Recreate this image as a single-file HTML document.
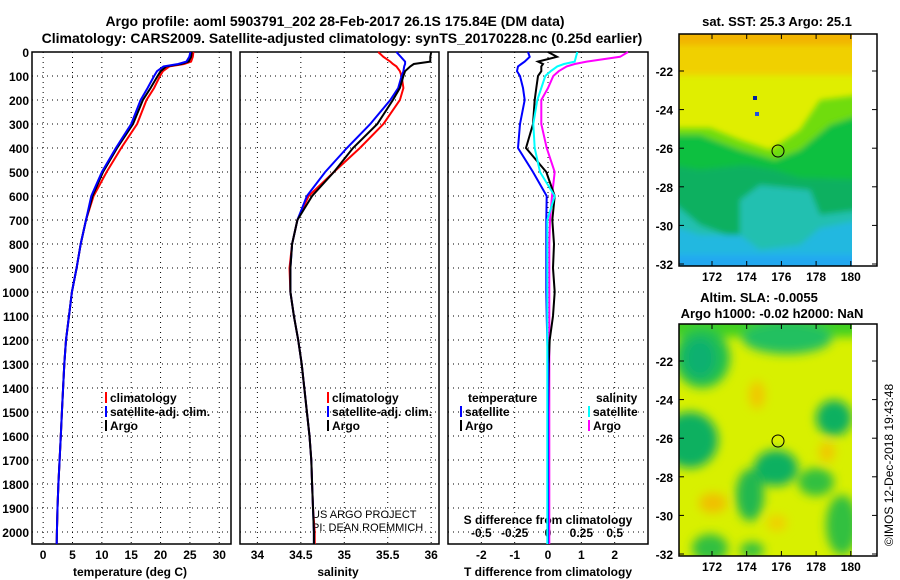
<!DOCTYPE html>
<html><head><meta charset="utf-8"><style>
body{margin:0;background:#fff;}
svg{display:block;font-family:"Liberation Sans",sans-serif;font-weight:bold;}
</style></head><body>
<svg id="c" width="900" height="580" viewBox="0 0 900 580">
<defs>
<filter id="bl" x="-20%" y="-20%" width="140%" height="140%"><feGaussianBlur stdDeviation="5"/></filter>
<filter id="bl2" x="-20%" y="-20%" width="140%" height="140%"><feGaussianBlur stdDeviation="3"/></filter>
<clipPath id="cm1"><rect x="679" y="34" width="173" height="232"/></clipPath>
<clipPath id="cm2"><rect x="679" y="324" width="173" height="232"/></clipPath>
</defs>
<text x="335" y="26" text-anchor="middle" font-size="14">Argo profile: aoml 5903791_202 28-Feb-2017 26.1S 175.84E (DM data)</text>
<text x="342" y="43" text-anchor="middle" font-size="14">Climatology: CARS2009. Satellite-adjusted climatology: synTS_20170228.nc (0.25d earlier)</text>

<g id="maps">
<text x="777" y="26" text-anchor="middle" font-size="13">sat. SST: 25.3 Argo: 25.1</text>
<rect x="679" y="34" width="198" height="232" fill="#fff"/>
<g clip-path="url(#cm1)">
 <rect x="679" y="34" width="173" height="232" fill="#e0ee00"/>
 <g filter="url(#bl2)">
 <rect x="670" y="25" width="190" height="30" fill="#f2b400"/>
 <rect x="670" y="45" width="190" height="30" fill="#f0d000"/>
 <polygon points="860,95 820,100 800,130 770,150 740,140 710,128 670,128 670,280 860,280" fill="#70dc10"/>
 <polygon points="860,115 830,125 800,150 775,160 740,150 700,135 670,135 670,280 860,280" fill="#10c040"/>
 <polygon points="860,180 800,178 775,170 745,165 700,170 670,165 670,280 860,280" fill="#10b060"/>
 <polygon points="860,210 820,215 810,190 760,185 740,200 740,240 700,225 670,200 670,280 860,280" fill="#20c0b0"/>
 <polygon points="860,220 820,228 800,245 760,250 740,235 700,235 670,225 670,280 860,280" fill="#20b8e0"/>
 <rect x="670" y="255" width="190" height="20" fill="#20a8f0"/>
 </g>
 <rect x="753" y="96" width="4" height="4" fill="#0020a0"/><rect x="755" y="112" width="4" height="4" fill="#2050e0"/>
</g>
<text x="759" y="302" text-anchor="middle" font-size="13">Altim. SLA: -0.0055</text>
<text x="772" y="318" text-anchor="middle" font-size="13">Argo h1000: -0.02 h2000: NaN</text>
<rect x="679" y="324" width="198" height="232" fill="#fff"/>
<g clip-path="url(#cm2)">
 <rect x="679" y="324" width="173" height="232" fill="#d8f000"/>
 <g filter="url(#bl)">
 <rect x="670" y="315" width="190" height="22" fill="#40d020"/>
 <ellipse cx="787" cy="338" rx="45" ry="16" fill="#20c060"/>
 <ellipse cx="702" cy="358" rx="28" ry="30" fill="#20c050"/>
 <ellipse cx="700" cy="358" rx="16" ry="20" fill="#10b070"/>
 <ellipse cx="690" cy="440" rx="28" ry="28" fill="#10b060"/>
 <ellipse cx="834" cy="418" rx="18" ry="18" fill="#10b060"/>
 <ellipse cx="776" cy="468" rx="22" ry="18" fill="#10b060"/>
 <ellipse cx="750" cy="495" rx="14" ry="26" fill="#20b850"/>
 <ellipse cx="816" cy="482" rx="18" ry="14" fill="#30c040"/>
 <ellipse cx="710" cy="548" rx="18" ry="14" fill="#30c040"/>
 <ellipse cx="752" cy="550" rx="12" ry="8" fill="#30c040"/>
 <ellipse cx="842" cy="525" rx="16" ry="30" fill="#30c040"/>
 <ellipse cx="713" cy="503" rx="14" ry="10" fill="#f0c000"/>
 <ellipse cx="757" cy="395" rx="8" ry="14" fill="#f0c800"/>
 <ellipse cx="827" cy="452" rx="8" ry="10" fill="#f0c800"/>
 <ellipse cx="777" cy="523" rx="10" ry="8" fill="#f0d000"/>
 </g>
</g>
<circle cx="778" cy="151" r="6" fill="none" stroke="#000"/>
<circle cx="778" cy="441" r="6" fill="none" stroke="#000"/>
<rect x="679" y="34" width="198" height="232" fill="none" stroke="#000" stroke-width="1.5"/>
<rect x="679" y="324" width="198" height="232" fill="none" stroke="#000" stroke-width="1.5"/>
<text x="-465" y="893" transform="rotate(-90)" text-anchor="middle" font-size="12" font-weight="normal">©IMOS 12-Dec-2018 19:43:48</text>
</g>

<g id="panels"></g>
</svg>
<script>
// ---- data ----
const depths = [0,20,40,50,60,80,100,150,200,300,400,500,600,700,800,900,1000,1100,1200,1300,1400,1500,1600,1700,1800,1900,2000,2050];
const tempArgo = [25.3,25.2,24.8,23.5,21.0,20.0,19.5,18.3,17.0,15.3,12.6,10.2,8.4,7.3,6.4,5.7,4.9,4.4,3.9,3.6,3.4,3.2,3.0,2.8,2.6,2.45,2.35,2.3];
const tempClim = [25.6,25.5,25.2,24.0,21.5,20.4,19.9,18.9,17.6,16.0,13.3,10.8,8.6,7.3,6.4,5.7,4.9,4.4,3.9,3.6,3.4,3.2,3.0,2.8,2.6,2.45,2.35,2.3];
const tempSat = [25.1,24.9,24.4,23.0,20.5,19.4,18.9,17.8,16.6,15.0,12.4,10.0,8.2,7.3,6.4,5.7,4.9,4.4,3.9,3.6,3.4,3.2,3.0,2.8,2.6,2.45,2.35,2.3];
const salArgo = [36.0,35.99,35.99,35.8,35.76,35.7,35.68,35.64,35.56,35.38,35.1,34.88,34.63,34.46,34.4,34.38,34.38,34.42,34.47,34.51,34.54,34.57,34.6,34.62,34.63,34.64,34.65,34.65];
const salClim = [35.39,35.45,35.53,35.56,35.6,35.64,35.66,35.68,35.64,35.45,35.18,34.88,34.59,34.46,34.4,34.37,34.38,34.42,34.47,34.51,34.54,34.57,34.6,34.62,34.63,34.64,34.66,34.66];
const salSat = [35.6,35.65,35.7,35.7,35.69,35.68,35.66,35.62,35.53,35.3,35.03,34.78,34.57,34.46,34.4,34.38,34.38,34.42,34.47,34.51,34.54,34.57,34.6,34.62,34.63,34.64,34.65,34.65];
const dTempSat = [-0.6,-0.55,-0.7,-0.8,-0.9,-0.93,-0.84,-0.75,-0.7,-0.84,-0.9,-0.45,-0.04,-0.05,-0.05,-0.05,-0.05,-0.04,-0.02,0,0,0,0,0,0,0,0,0];
const dTempArgo = [0,0.27,-0.3,-0.15,-0.2,-0.2,-0.3,-0.35,-0.4,-0.45,-0.66,-0.05,0.2,0.13,0.18,0.15,0.2,0.15,0.05,0.02,0.01,0,0,0,0,0,0,0];
const dSalSat = [0.22,0.21,0.2,0.12,0.07,0.02,-0.02,-0.05,-0.08,-0.11,-0.1,-0.06,0.05,-0.005,-0.005,-0.005,-0.005,-0.005,-0.005,-0.005,-0.005,-0.005,-0.005,-0.005,-0.005,-0.005,-0.005,-0.005];
const dSalArgo = [0.6,0.54,0.29,0.2,0.14,0.08,0.04,0,-0.05,-0.05,-0.01,0.05,0.03,0.015,0.01,0.01,0.01,0.01,0.01,0.01,0.01,0.01,0.01,0.01,0.01,0.01,0.01,0.01];
const depthTicks = [0,100,200,300,400,500,600,700,800,900,1000,1100,1200,1300,1400,1500,1600,1700,1800,1900,2000];
const tempTicks = [0,5,10,15,20,25,30];
const salTicks = [34,34.5,35,35.5,36];
const salTickLabels = ["34","34.5","35","35.5","36"];
const dTTicks = [-2,-1,0,1,2];
const dSTicks = [-0.5,-0.25,0,0.25,0.5];
const dSTickLabels = ["-0.5","-0.25","0","0.25","0.5"];
const mapLatTicks = [-22,-24,-26,-28,-30,-32];
const mapLonTicks = [172,174,176,178,180];

const NS='http://www.w3.org/2000/svg';
const G=document.getElementById('panels');
function mk(tag,attrs,parent){const e=document.createElementNS(NS,tag);for(const k in attrs)e.setAttribute(k,attrs[k]);(parent||G).appendChild(e);return e;}
const TOP=52,BOT=544;
const yD=d=>TOP+(BOT-TOP)*d/2050;
const panels=[
 {x0:32,x1:231,v0:-1.9,v1:32,name:'temperature'},
 {x0:240,x1:439,v0:33.8,v1:36.09,name:'salinity'},
 {x0:448,x1:648,v0:-3,v1:3,name:'difference'}];
panels.forEach(p=>{p.sx=v=>p.x0+(v-p.v0)/(p.v1-p.v0)*(p.x1-p.x0);});
const sxS=v=>panels[2].sx(v*4);

function grid(p,xt,sx){
  depthTicks.forEach(d=>{const l=mk('line',{x1:p.x0,x2:p.x1,y1:yD(d),y2:yD(d),stroke:'#000','stroke-dasharray':'1,4'});
    
    });
  xt.forEach(v=>{const l=mk('line',{x1:sx(v),x2:sx(v),y1:TOP,y2:BOT,stroke:'#000','stroke-dasharray':'1,4'});
    
    });
  const r=mk('rect',{x:p.x0,y:TOP,width:p.x1-p.x0,height:BOT-TOP,fill:'none',stroke:'#000','stroke-width':1.5});
  
  
}
grid(panels[0],tempTicks,panels[0].sx);
grid(panels[1],salTicks,panels[1].sx);
grid(panels[2],dTTicks,panels[2].sx);

depthTicks.forEach(d=>{const t=mk('text',{x:29,y:yD(d)+5,'text-anchor':'end','font-size':12});t.textContent=d;
  
  });
function xlabels(ticks,labels,sx,y,name){ticks.forEach((v,i)=>{const t=mk('text',{x:sx(v),y:y,'text-anchor':'middle','font-size':12});t.textContent=labels[i];
  
  });}
xlabels(tempTicks,tempTicks.map(String),panels[0].sx,559,'temperature-tick-label');
xlabels(salTicks,salTickLabels,panels[1].sx,559,'salinity-tick-label');
xlabels(dTTicks,dTTicks.map(String),panels[2].sx,559,'t-diff-tick-label');
xlabels(dSTicks,dSTickLabels,sxS,537,'s-diff-tick-label');

function ttl(x,y,s,name,size,anchor){const t=mk('text',{x:x,y:y,'text-anchor':anchor||'middle','font-size':size||12});t.textContent=s;
  
  return t;}
ttl(130,576,'temperature (deg C)','x-axis-title-temperature');
ttl(338,576,'salinity','x-axis-title-salinity');
ttl(548,576,'T difference from climatology','x-axis-title-t-diff');
ttl(548,524,'S difference from climatology','s-diff-axis-title');
ttl(312,518,'US ARGO PROJECT','project-credit',11,'start').setAttribute('font-weight','normal');
ttl(312,531,'PI: DEAN ROEMMICH','pi-credit',11,'start').setAttribute('font-weight','normal');

function line(vals,sx,color,name,w){const pts=vals.map((v,i)=>sx(v).toFixed(1)+','+yD(depths[i]).toFixed(1)).join(' ');
  const l=mk('polyline',{points:pts,fill:'none',stroke:color,'stroke-width':w||2});
  
  }
line(tempClim,panels[0].sx,'#f00','temp-climatology-line');
line(tempArgo,panels[0].sx,'#000','temp-argo-line');
line(tempSat,panels[0].sx,'#00f','temp-satellite-line');
line(salClim,panels[1].sx,'#f00','sal-climatology-line');
line(salSat,panels[1].sx,'#00f','sal-satellite-line');
line(salArgo,panels[1].sx,'#000','sal-argo-line');
line(dSalArgo,sxS,'#f0f','s-diff-argo-line');
line(dTempArgo,panels[2].sx,'#000','t-diff-argo-line');
line(dTempSat,panels[2].sx,'#00f','t-diff-satellite-line');
line(dSalSat,sxS,'#0ff','s-diff-satellite-line');

function leg(x,y,color,s,name){const b=mk('rect',{x:x,y:y-10,width:2,height:11,fill:color});
  
  
  ttl(x+5,y,s,name,12,'start');}
leg(105,402,'#f00','climatology','legend-climatology');
leg(105,416,'#00f','satellite-adj. clim.','legend-satellite-temp');
leg(105,430,'#000','Argo','legend-argo-temp');
leg(327,402,'#f00','climatology','legend-climatology-sal');
leg(327,416,'#00f','satellite-adj. clim.','legend-satellite-sal');
leg(327,430,'#000','Argo','legend-argo-sal');
ttl(468,402,'temperature','legend-temperature-heading',12,'start');
leg(460,416,'#00f','satellite','legend-t-diff-satellite');
leg(460,430,'#000','Argo','legend-t-diff-argo');
ttl(596,402,'salinity','legend-salinity-heading',12,'start');
leg(588,416,'#0ff','satellite','legend-s-diff-satellite');
leg(588,430,'#f0f','Argo','legend-s-diff-argo');

// map axes
const lonX=lon=>712+(lon-172)*17.35;
[[34,266,278],[324,556,572]].forEach(([t,b,ly],mi)=>{
  const latY=lat=>(t+37)+(-22-lat)*19.3;
  mapLatTicks.forEach(l=>{const y=latY(l);
    mk('line',{x1:679,x2:684,y1:y,y2:y,stroke:'#000'});mk('line',{x1:872,x2:877,y1:y,y2:y,stroke:'#000'});
    const tx=mk('text',{x:673,y:y+5,'text-anchor':'end','font-size':12});tx.textContent=l;
    
    });
  mapLonTicks.forEach(l=>{const x=lonX(l);
    mk('line',{x1:x,x2:x,y1:t,y2:t+5,stroke:'#000'});mk('line',{x1:x,x2:x,y1:b-5,y2:b,stroke:'#000'});
    const tx=mk('text',{x:x,y:b+15,'text-anchor':'middle','font-size':12});tx.textContent=l;
    
    });
});
</script>
</body></html>
